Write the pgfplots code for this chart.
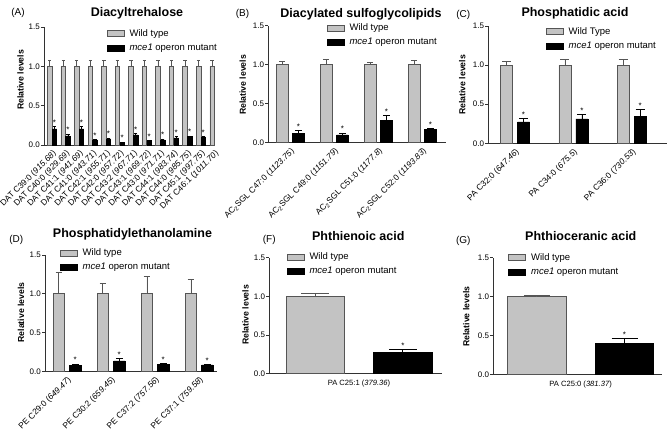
\documentclass[border=0pt]{standalone}
\usepackage{pgfplots}
\pgfplotsset{compat=1.18}
\usepackage{pgfplotstable}
\usepackage{fontspec}
\setmainfont{Liberation Sans}
\definecolor{wtfill}{RGB}{195,195,195}
\definecolor{wtedge}{RGB}{85,85,85}
\definecolor{axcol}{RGB}{50,50,50}
\newcommand{\fs}[1]{\fontsize{#1}{#1}\selectfont}
\newcommand{\lab}[2]{#1 (\textit{#2})}
\newcommand{\mce}{\textit{mce1} operon mutant}

\pgfplotstableread{
x wt wte mu mue
0 1 0.07 0.204 0.03
1 1 0.07 0.115 0.025
2 1 0.07 0.204 0.03
3 1 0.07 0.064 0.008
4 1 0.07 0.077 0.013
5 1 0.08 0.034 0.004
6 1 0.07 0.128 0.017
7 1 0.07 0.055 0.004
8 1 0.07 0.064 0.013
9 1 0.07 0.089 0.017
10 1 0.07 0.106 0.009
11 1 0.07 0.102 0.003
12 1 0.07 nan nan
}\tabA
\pgfplotstableread{
x wt wte mu mue
0 1 0.043 0.12 0.04
1 1 0.064 0.10 0.024
2 1 0.03 0.29 0.056
3 1 0.051 0.175 0.003
}\tabB
\pgfplotstableread{
x wt wte mu mue
0 1 0.051 0.274 0.047
1 1 0.077 0.312 0.06
2 1 0.077 0.342 0.094
}\tabC
\pgfplotstableread{
x wt wte mu mue
0 1 0.28 0.073 0.021
1 1 0.13 0.133 0.034
2 1 0.22 0.094 0.009
3 1 0.19 0.082 0.008
}\tabD
\pgfplotstableread{
x wt wte mu mue
0 1 0.04 0.274 0.038
}\tabF
\pgfplotstableread{
x wt wte mu mue
0 1 0.02 0.396 0.064
}\tabG

\pgfplotsset{
 panel/.style={scale only axis, anchor=south west, clip=false,
   axis lines*=left, ymin=0, ymax=1.5, ytick={0,0.5,1,1.5},
   axis line style={draw=axcol, line width=0.8pt},
   tick align=outside, major tick length=3pt,
   ytick style={draw=axcol, line width=0.8pt},
   xtick style={draw=none},
   yticklabel style={font=\fs{8}, inner sep=1pt, /pgf/number format/.cd, fixed, fixed zerofill, precision=1, assume math mode=true},
   xticklabel style={font=\fs{8.4}},
   ybar,
   legend style={draw=none, fill=none, inner sep=0pt, font=\fs{9.5}, row sep=2.2pt, column sep=3pt, cells={anchor=west}, anchor=north west},
 },
 rotlab/.style={xticklabel style={rotate=45, anchor=north east, inner sep=1pt}},
 legbox/.style={legend image code/.code={\draw[##1] (0pt,-3pt) rectangle (17pt,3pt);}},
 wt/.style={fill=wtfill, draw=wtedge, line width=0.6pt, legbox},
 mu/.style={fill=black, draw=black, line width=0.6pt, legbox},
 eb/.style 2 args={error bars/.cd, y dir=plus, y explicit, error bar style={draw=#1, line width=0.7pt}, error mark options={rotate=90, draw=#1, line width=0.7pt, mark size=#2}},
 star/.style={forget plot, draw=none, fill=none, nodes near coords={*}, every node near coord/.append style={anchor=south, inner sep=0.6pt, font=\fs{8}, text=black, yshift=0.3pt}},
}

\begin{document}
\begin{tikzpicture}[x=1pt,y=1pt]
\path[use as bounding box] (0pt,0pt) rectangle (669pt,429pt);

% ---------- (A)
\node[font=\fs{10}] at (18pt,416pt) {(A)};
\node[font=\bfseries\fs{12.5}] at (137pt,416pt) {Diacyltrehalose};
\node[font=\bfseries\fs{8.7}, rotate=90] at (20.5pt,349pt) {Relative levels};
\begin{axis}[panel, rotlab, at={(44pt,284pt)}, width=171pt, height=118pt,
  xmin=-0.595, xmax=12.04, bar width=4.5pt, xtick={0,...,12},
  xticklabels={\lab{DAT C39:0}{915.68},\lab{DAT C40:0}{929.69},\lab{DAT C41:1}{941.69},\lab{DAT C41:0}{943.71},\lab{DAT C42:1}{955.71},\lab{DAT C42:0}{957.72},\lab{DAT C43:2}{967.71},\lab{DAT C43:1}{969.72},\lab{DAT C43:0}{971.71},\lab{DAT C44:1}{983.74},\lab{DAT C44:0}{985.75},\lab{DAT C45:1}{997.75},\lab{DAT C46:1}{1011.70}},
  legend style={at={(axis description cs:0.367,0.998)}}]
\addplot[wt, bar shift=-2.35pt, eb={wtedge}{1.7pt}] table[x=x, y=wt, y error=wte] {\tabA};
\addplot[mu, bar shift=2.35pt, eb={black}{1.7pt}] table[x=x, y=mu, y error=mue] {\tabA};
\addplot[star, bar shift=2.35pt] table[x=x, y expr=\thisrow{mu}+\thisrow{mue}] {\tabA};
\legend{Wild type, \mce}
\end{axis}

% ---------- (B)
\node[font=\fs{10}] at (242.5pt,415pt) {(B)};
\node[font=\bfseries\fs{12.5}] at (361pt,415pt) {Diacylated sulfoglycolipids};
\node[font=\bfseries\fs{8.7}, rotate=90] at (242.8pt,344pt) {Relative levels};
\begin{axis}[panel, rotlab, at={(268.3pt,286.3pt)}, width=177.7pt, height=117pt,
  xmin=-0.498, xmax=3.54, bar width=11.5pt, xtick={0,...,3},
  xticklabels={\lab{AC\textsubscript{2}SGL C47:0}{1123.75},\lab{AC\textsubscript{2}SGL C49:0}{1151.79},\lab{AC\textsubscript{2}SGL C51:0}{1177.8},\lab{AC\textsubscript{2}SGL C52:0}{1193.83}},
  legend style={at={(axis description cs:0.329,1.035)}}]
\addplot[wt, bar shift=-8.1pt, eb={wtedge}{3.3pt}] table[x=x, y=wt, y error=wte] {\tabB};
\addplot[mu, bar shift=8.1pt, eb={black}{3.3pt}] table[x=x, y=mu, y error=mue] {\tabB};
\addplot[star, bar shift=8.1pt] table[x=x, y expr=\thisrow{mu}+\thisrow{mue}] {\tabB};
\legend{Wild type, \mce}
\end{axis}

% ---------- (C)
\node[font=\fs{10}] at (463.3pt,414pt) {(C)};
\node[font=\bfseries\fs{12.5}] at (575pt,415.7pt) {Phosphatidic acid};
\node[font=\bfseries\fs{8.7}, rotate=90] at (462.2pt,344pt) {Relative levels};
\begin{axis}[panel, rotlab, at={(488.3pt,285.7pt)}, width=178.4pt, height=117.3pt,
  xmin=-0.458, xmax=2.60, bar width=12pt, xtick={0,...,2},
  xticklabels={\lab{PA C32:0}{647.46},\lab{PA C34:0}{675.5},\lab{PA C36:0}{730.53}},
  legend style={at={(axis description cs:0.323,1.007)}}]
\addplot[wt, bar shift=-8.5pt, eb={wtedge}{4.5pt}] table[x=x, y=wt, y error=wte] {\tabC};
\addplot[mu, bar shift=8.5pt, eb={black}{4.5pt}] table[x=x, y=mu, y error=mue] {\tabC};
\addplot[star, bar shift=8.5pt] table[x=x, y expr=\thisrow{mu}+\thisrow{mue}] {\tabC};
\legend{Wild Type, \mce}
\end{axis}

% ---------- (D)
\node[font=\fs{10}] at (16.3pt,189pt) {(D)};
\node[font=\bfseries\fs{12.5}] at (132.5pt,195pt) {Phosphatidylethanolamine};
\node[font=\bfseries\fs{8.7}, rotate=90] at (21pt,116.5pt) {Relative levels};
\begin{axis}[panel, rotlab, at={(45pt,57.7pt)}, width=171.7pt, height=116.4pt,
  xmin=-0.5, xmax=3.40, bar width=11.3pt, xtick={0,...,3},
  xticklabels={\lab{PE C29:0}{649.47},\lab{PE C30:2}{659.45},\lab{PE C37:2}{757.56},\lab{PE C37:1}{759.58}},
  legend style={at={(axis description cs:0.087,1.072)}}]
\addplot[wt, bar shift=-8.2pt, eb={wtedge}{3.3pt}] table[x=x, y=wt, y error=wte] {\tabD};
\addplot[mu, bar shift=8.2pt, eb={black}{3.3pt}] table[x=x, y=mu, y error=mue] {\tabD};
\addplot[star, bar shift=8.2pt] table[x=x, y expr=\thisrow{mu}+\thisrow{mue}] {\tabD};
\legend{Wild type, \mce}
\end{axis}

% ---------- (F)
\node[font=\fs{10}] at (269.2pt,189pt) {(F)};
\node[font=\bfseries\fs{12.5}] at (358.3pt,193.3pt) {Phthienoic acid};
\node[font=\bfseries\fs{8.7}, rotate=90] at (245.5pt,114pt) {Relative levels};
\begin{axis}[panel, at={(269.3pt,55.3pt)}, width=172.4pt, height=116pt,
  xmin=-0.897, xmax=0.827, bar width=58.5pt, xtick={0},
  xticklabels={\lab{PA C25:1}{379.36}}, xticklabel style={font=\fs{7.6}},
  legend style={at={(axis description cs:0.101,1.062)}}]
\addplot[wt, bar shift=-43.8pt, eb={wtedge}{14pt}] table[x=x, y=wt, y error=wte] {\tabF};
\addplot[mu, bar shift=43.8pt, eb={black}{14pt}] table[x=x, y=mu, y error=mue] {\tabF};
\addplot[star, bar shift=43.8pt] table[x=x, y expr=\thisrow{mu}+\thisrow{mue}] {\tabF};
\legend{Wild type, \mce}
\end{axis}

% ---------- (G)
\node[font=\fs{10}] at (463.3pt,188.3pt) {(G)};
\node[font=\bfseries\fs{12.5}] at (580.8pt,193pt) {Phthioceranic acid};
\node[font=\bfseries\fs{8.7}, rotate=90] at (466.3pt,112.3pt) {Relative levels};
\begin{axis}[panel, at={(493.3pt,54.7pt)}, width=168.4pt, height=116.6pt,
  xmin=-0.874, xmax=0.81, bar width=58.5pt, xtick={0},
  xticklabels={\lab{PA C25:0}{381.37}}, xticklabel style={font=\fs{7.6}},
  legend style={at={(axis description cs:0.089,1.056)}}]
\addplot[wt, bar shift=-43.8pt, eb={wtedge}{13pt}] table[x=x, y=wt, y error=wte] {\tabG};
\addplot[mu, bar shift=43.8pt, eb={black}{13pt}] table[x=x, y=mu, y error=mue] {\tabG};
\addplot[star, bar shift=43.8pt] table[x=x, y expr=\thisrow{mu}+\thisrow{mue}] {\tabG};
\legend{Wild type, \mce}
\end{axis}
\end{tikzpicture}
\end{document}
